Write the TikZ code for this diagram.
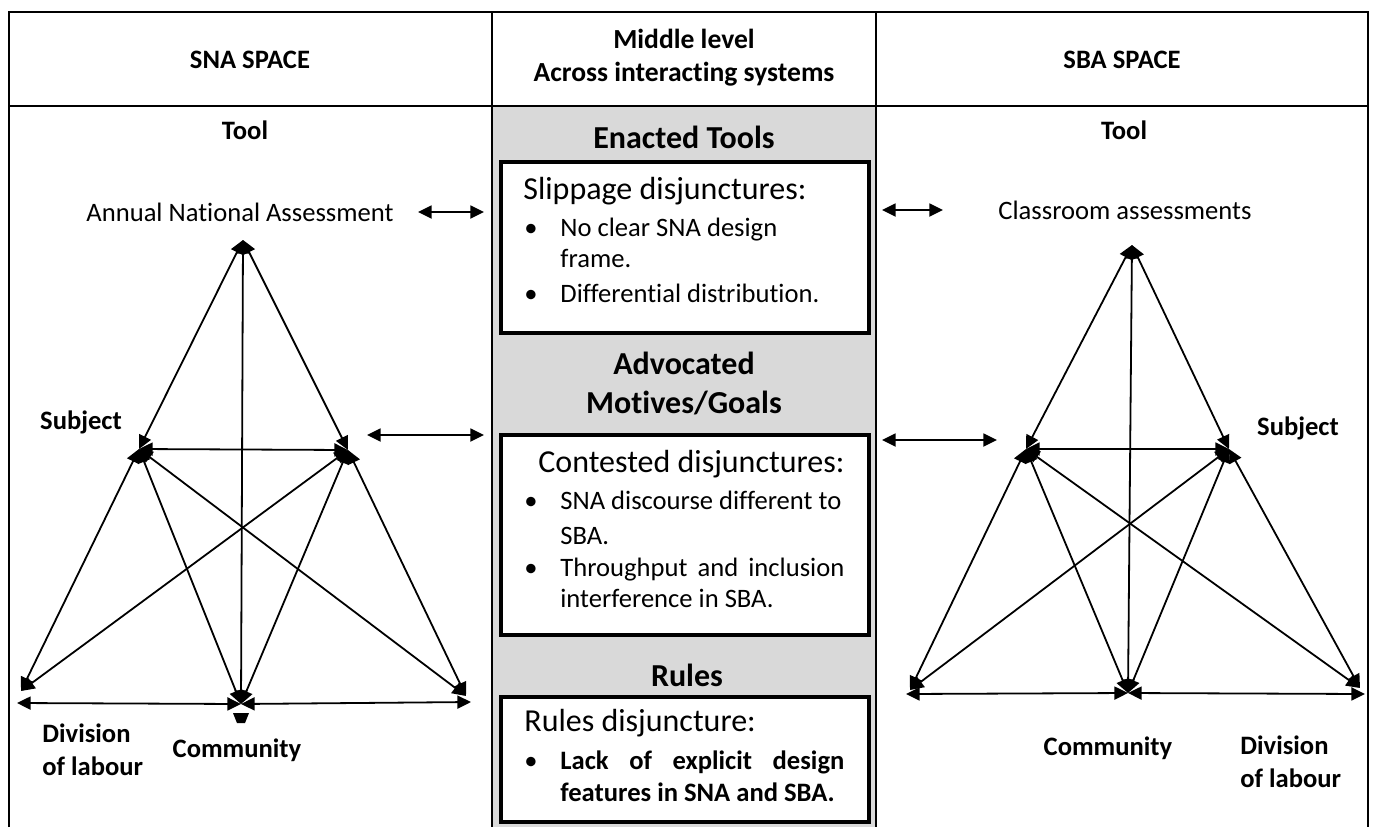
\documentclass[tikz,border=0pt]{standalone}
\usepackage{fontspec}
\setmainfont{Carlito}[Ligatures=NoCommon]
\usetikzlibrary{arrows.meta}
\definecolor{panel}{HTML}{D9D9D9}
\begin{document}
\begin{tikzpicture}[x=0.5pt,y=-0.5pt,
  line/.style={line width=0.9pt},
  conn/.style={line width=0.9pt,{Triangle[length=6.8pt,width=6.5pt]}-{Triangle[length=6.8pt,width=6.5pt]}},
  lbl/.style={font=\fontsize{13.3}{16.5}\selectfont\bfseries, inner sep=0pt, align=center},
  txt/.style={font=\fontsize{13.3}{16.5}\selectfont, inner sep=0pt},
  head/.style={font=\fontsize{16}{19.5}\selectfont\bfseries, inner sep=0pt, align=center},
  big/.style={font=\fontsize{16}{19.5}\selectfont, inner sep=0pt},
  dbox/.style={draw, line width=2pt, fill=white, anchor=north west, minimum width=184pt, inner sep=0pt}
]
\useasboundingbox (0,0) rectangle (1373,827);
% table
\fill[panel] (492,106) rectangle (876,827);
\draw[line] (9,827) -- (9,12) -- (1368,12) -- (1368,827);
\draw[line] (9,106) -- (1368,106);
\draw[line] (492,12) -- (492,827);
\draw[line] (876,12) -- (876,827);

% headers
\node[lbl] (snah) at (250,60) {SNA SPACE};
\node[lbl, font=\fontsize{13.8}{16.5}\selectfont\bfseries] (midh) at (684,58) {Middle level\\Across interacting systems};
\node[lbl] (sbah) at (1122,60) {SBA SPACE};

% middle column
\node[head] (h1) at (684,137) {Enacted Tools};
\node[dbox, minimum height=85.5pt] (box1) at (499,160) {};
\node[big, anchor=mid west] (b1t) at (523,195) {Slippage disjunctures:};
\node[txt, anchor=mid west] (b1a) at (524,232) {\makebox[18pt][l]{\textbullet}No clear SNA design};
\node[txt, anchor=mid west] (b1b) at (560,263) {frame.};
\node[txt, anchor=mid west] (b1c) at (524,298) {\makebox[18pt][l]{\textbullet}Differential distribution.};

\node[head] (h2) at (684,383) {Advocated\\Motives/Goals};
\node[dbox, minimum height=100pt] (box2) at (499,433) {};
\node[big, anchor=mid west] (b2t) at (538,468) {Contested disjunctures:};
\node[txt, anchor=mid west] (b2a) at (524,505) {\makebox[18pt][l]{\textbullet}SNA discourse different to};
\node[txt, anchor=mid west] (b2b) at (560,540) {SBA.};
\node[txt, anchor=mid west] (b2c) at (524,572) {\makebox[18pt][l]{\textbullet}\makebox[142pt][s]{Throughput and inclusion}};
\node[txt, anchor=mid west] (b2d) at (560,603) {interference in SBA.};

\node[head] (h3) at (687,675) {Rules};
\node[dbox, minimum height=62.5pt] (box3) at (499,695) {};
\node[big, anchor=mid west] (b3t) at (524,727) {Rules disjuncture:};
\node[txt, anchor=mid west] (b3a) at (524,765) {\makebox[18pt][l]{\textbullet}\makebox[142pt][s]{\bfseries Lack of explicit design}};
\node[txt, anchor=mid west] (b3b) at (560,797) {\bfseries features in SNA and SBA.};

% left (SNA) labels
\node[lbl] (tool1) at (245,130) {Tool};
\node[txt] (ana) at (240,212) {Annual National Assessment};
\node[lbl] (subj1) at (81,422) {Subject};
\node[lbl, align=left, anchor=west] (div1) at (42,750) {Division\\of labour};
\node[lbl] (com1) at (237,750) {Community};

% left triangle
\coordinate (T1) at (243,240);
\coordinate (S1) at (139,449);
\coordinate (R1) at (348,450);
\coordinate (D1) at (21,691);
\coordinate (D1h) at (17,703);
\coordinate (C1) at (241,704);
\coordinate (B1) at (466,696);
\coordinate (B1h) at (471,702);
\draw[conn] (S1) -- (T1);
\draw[conn] (R1) -- (T1);
\draw[conn] (C1) -- (T1);
\draw[conn] (S1) -- (R1);
\draw[conn] (S1) -- (D1);
\draw[conn] (S1) -- (C1);
\draw[conn] (S1) -- (B1);
\draw[conn] (R1) -- (D1);
\draw[conn] (R1) -- (C1);
\draw[conn] (R1) -- (B1);
\draw[conn] (D1h) -- (C1);
\draw[conn] (C1) -- (B1h);
\fill (233,713) -- (249,713) -- (245,723) -- (237,723) -- cycle;

% left side arrows
\coordinate (la1) at (418,212);
\coordinate (la2) at (484,212);
\coordinate (lb1) at (367,435);
\coordinate (lb2) at (484,435);
\draw[conn] (la1) -- (la2);
\draw[conn] (lb1) -- (lb2);

% right (SBA) labels
\node[lbl] (tool2) at (1124,130) {Tool};
\node[txt] (ca) at (1125,210) {Classroom assessments};
\node[lbl] (subj2) at (1298,428) {Subject};
\node[lbl] (com2) at (1108,748) {Community};
\node[lbl, align=left, anchor=west] (div2) at (1240,762) {Division\\of labour};

% right triangle
\coordinate (T2) at (1132,245);
\coordinate (S2) at (1026,449);
\coordinate (R2) at (1229,449);
\coordinate (D2) at (910,690);
\coordinate (D2h) at (906,694);
\coordinate (C2) at (1128,693);
\coordinate (B2) at (1360,688);
\coordinate (B2h) at (1365,694);
\draw[conn] (S2) -- (T2);
\draw[conn] (R2) -- (T2);
\draw[conn] (C2) -- (T2);
\draw[conn] (S2) -- (R2);
\draw[conn] (S2) -- (D2);
\draw[conn] (S2) -- (C2);
\draw[conn] (S2) -- (B2);
\draw[conn] (R2) -- (D2);
\draw[conn] (R2) -- (C2);
\draw[conn] (R2) -- (B2);
\draw[conn] (D2h) -- (C2);
\draw[conn] (C2) -- (B2h);

% right side arrows
\coordinate (ra1) at (882,210);
\coordinate (ra2) at (943,210);
\coordinate (rb1) at (882,440);
\coordinate (rb2) at (997,440);
\draw[conn] (ra1) -- (ra2);
\draw[conn] (rb1) -- (rb2);
\end{tikzpicture}
\end{document}
